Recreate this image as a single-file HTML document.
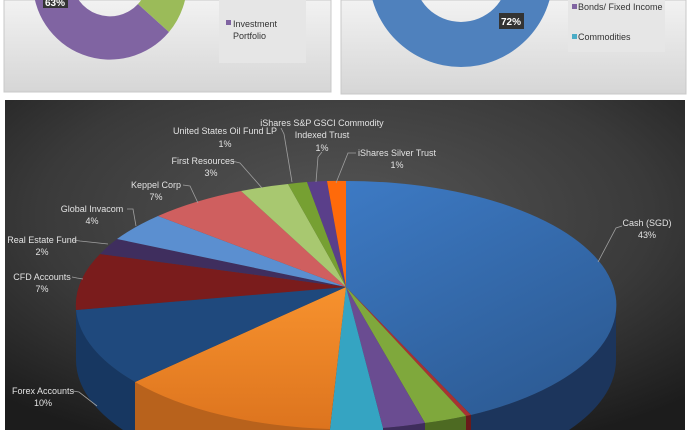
<!DOCTYPE html>
<html><head><meta charset="utf-8"><style>
html,body{margin:0;padding:0;background:#fff;width:690px;height:430px;overflow:hidden}
svg{display:block;overflow:hidden;font-family:"Liberation Sans",sans-serif}
</style></head><body>
<svg width="690" height="430" viewBox="0 0 690 430" xmlns="http://www.w3.org/2000/svg">
<defs>
<linearGradient id="pg" x1="0" y1="0" x2="0" y2="1"><stop offset="0" stop-color="#f2f2f2"/><stop offset="1" stop-color="#d6d6d6"/></linearGradient>
<radialGradient id="dk" cx="0.5" cy="0.35" r="0.75"><stop offset="0" stop-color="#555"/><stop offset="0.6" stop-color="#3a3a3a"/><stop offset="1" stop-color="#1c1c1c"/></radialGradient>
<linearGradient id="cash" x1="0" y1="0" x2="0.6" y2="1"><stop offset="0" stop-color="#3d7ac4"/><stop offset="1" stop-color="#2d5c96"/></linearGradient>
<linearGradient id="ora" x1="0" y1="0" x2="0" y2="1"><stop offset="0" stop-color="#f7922e"/><stop offset="1" stop-color="#dd741e"/></linearGradient>
</defs>
<rect x="4" y="0" width="327" height="92" fill="url(#pg)" stroke="#c8c8c8"/>
<rect x="341" y="0" width="345" height="94" fill="url(#pg)" stroke="#c8c8c8"/>
<path d="M33,-20 A77,77 0 0 0 169,32 L138,4 A38,38 0 0 1 72,-20 Z" fill="#8064a2"/>
<path d="M169,32 A77,77 0 0 0 187,-20 L148,-20 A38,38 0 0 1 138,4 Z" fill="#9bbb59"/>
<rect x="43" y="0" width="25" height="8" fill="#333"/>
<text x="55" y="6" font-size="10" font-weight="bold" fill="#fff" text-anchor="middle">63%</text>
<rect x="219" y="0" width="87" height="63" fill="#e6e6e6"/>
<rect x="226" y="20" width="5" height="5" fill="#8064a2"/>
<text x="233" y="27" font-size="9" fill="#333">Investment</text>
<text x="233" y="39" font-size="9" fill="#333">Portfolio</text>
<path d="M369,-25 A92,92 0 0 0 553,-25 L508,-25 A47,47 0 0 1 414,-25 Z" fill="#4f81bd"/>
<rect x="499" y="13" width="25" height="16" fill="#333"/>
<text x="511" y="25" font-size="10" font-weight="bold" fill="#fff" text-anchor="middle">72%</text>
<rect x="568" y="0" width="97" height="52" fill="#e6e6e6"/>
<rect x="572" y="4" width="5" height="5" fill="#8064a2"/>
<text x="578" y="10" font-size="9" fill="#333">Bonds/ Fixed Income</text>
<rect x="572" y="34" width="5" height="5" fill="#4bacc6"/>
<text x="578" y="40" font-size="9" fill="#333">Commodities</text>
<rect x="5" y="100" width="680" height="330" fill="url(#dk)"/>
<g>
<path d="M616,305 A270,124 0 0 1 471,415 L471,430 L569,430 A270,124 0 0 0 616,360 Z" fill="#1c355c"/>
<path d="M471,415 A270,124 0 0 1 466,416 L466,430 L471,430 Z" fill="#6a1a1a"/>
<path d="M466,416 A270,124 0 0 1 425,423 L425,430 L466,430 Z" fill="#4d6a22"/>
<path d="M425,423 A270,124 0 0 1 383,428 L383,430 L425,430 Z" fill="#3e2d5c"/>
<path d="M135,382 L135,430 L330,430 L330,429 A270,124 0 0 0 135,382 Z" fill="#b8621c"/>
<path d="M135,382 A270,124 0 0 1 76,305 L76,360 A270,124 0 0 0 123,430 L135,430 Z" fill="#173761"/>
</g>
<g>
<path d="M346,287 L346,181 A270,124 0 0 1 471,415 Z" fill="url(#cash)"/>
<path d="M346,287 L471,415 A270,124 0 0 1 466,416 Z" fill="#a83232"/>
<path d="M346,287 L466,416 A270,124 0 0 1 425,423 Z" fill="#7fa83c"/>
<path d="M346,287 L425,423 A270,124 0 0 1 383,428 Z" fill="#6a4c91"/>
<path d="M346,287 L383,428 L383,430 L330,430 L330,429 Z" fill="#35a4c2"/>
<path d="M346,287 L330,429 A270,124 0 0 1 135,382 Z" fill="url(#ora)"/>
<path d="M346,287 L135,382 A270,124 0 0 1 76,310 Z" fill="#1f497d"/>
<path d="M346,287 L76,310 A270,124 0 0 1 100,254 Z" fill="#7a1c1c"/>
<path d="M346,287 L100,254 A270,124 0 0 1 117,239 Z" fill="#3f2e5e"/>
<path d="M346,287 L117,239 A270,124 0 0 1 158,216 Z" fill="#5b8fd0"/>
<path d="M346,287 L158,216 A270,124 0 0 1 241,191 Z" fill="#cf5f5f"/>
<path d="M346,287 L241,191 A270,124 0 0 1 288,184 Z" fill="#a8c870"/>
<path d="M346,287 L288,184 A270,124 0 0 1 307,182 Z" fill="#76a032"/>
<path d="M346,287 L307,182 A270,124 0 0 1 327,181 Z" fill="#5a3f8a"/>
<path d="M346,287 L327,181 A270,124 0 0 1 346,181 Z" fill="#ff6a0a"/>
</g>
<g stroke="#a0a0a0" stroke-width="0.8" fill="none">
<polyline points="622,226 616,228 598,262"/>
<polyline points="73,391 79,392 97,406"/>
<polyline points="72,277 77,278 83,279"/>
<polyline points="73,240 80,241 108,244"/>
<polyline points="127,209 133,209 136,226"/>
<polyline points="183,185 190,186 198,203"/>
<polyline points="232,161 240,163 262,188"/>
<polyline points="281,128 284,134 292,182"/>
<polyline points="322,152 318,157 316,182"/>
<polyline points="356,153 348,153 336,183"/>
</g>
<g font-size="9" fill="#e2e2e2" text-anchor="middle">
<text x="322" y="126">iShares S&amp;P GSCI Commodity</text>
<text x="322" y="138">Indexed Trust</text>
<text x="322" y="151">1%</text>
<text x="225" y="134">United States Oil Fund LP</text>
<text x="225" y="147">1%</text>
<text x="397" y="156">iShares Silver Trust</text>
<text x="397" y="168">1%</text>
<text x="203" y="164">First Resources</text>
<text x="211" y="176">3%</text>
<text x="156" y="188">Keppel Corp</text>
<text x="156" y="200">7%</text>
<text x="92" y="212">Global Invacom</text>
<text x="92" y="224">4%</text>
<text x="42" y="243">Real Estate Fund</text>
<text x="42" y="255">2%</text>
<text x="42" y="280">CFD Accounts</text>
<text x="42" y="292">7%</text>
<text x="43" y="394">Forex Accounts</text>
<text x="43" y="406">10%</text>
<text x="647" y="226">Cash (SGD)</text>
<text x="647" y="238">43%</text>
</g>
</svg>
</body></html>
